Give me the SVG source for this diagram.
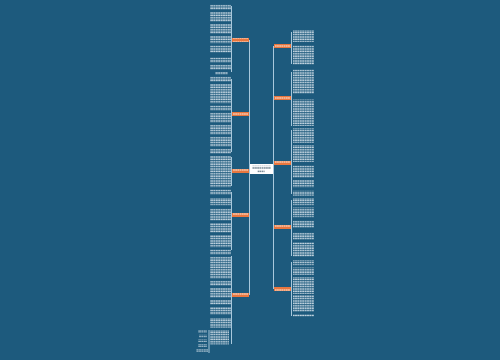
<svg xmlns="http://www.w3.org/2000/svg" width="500" height="360" viewBox="0 0 500 360">
<style>
.bg{fill:#1d5a7d}
.con{fill:none;stroke:#a8c8dc;stroke-width:1}
.node{fill:#e8773f}
.nt{fill:url(#ntx)}
.tx{fill:url(#txt)}
.ctr{fill:#ffffff}
</style>
<defs>
<pattern id="txt" width="2.4" height="2.4" patternUnits="userSpaceOnUse">
<rect x="0" y="0.3" width="2" height="1.4" fill="#e4edf3" opacity="0.85"/>
</pattern>
<pattern id="ntx" width="2.2" height="4" patternUnits="userSpaceOnUse">
<rect x="0" y="1.3" width="1.8" height="1.4" fill="#fbe2d2" opacity="0.8"/>
</pattern>
<pattern id="ctx" width="2.2" height="3.4" patternUnits="userSpaceOnUse">
<rect x="0" y="0.6" width="1.8" height="1.6" fill="#6a7d8a"/>
</pattern>
</defs>
<rect class="bg" x="0" y="0" width="500" height="360"/>
<g id="connectors">
<path class="con" d="M250,169 H249.5 V40 M249.5,169 V295"/>
<path class="con" d="M272,169 H273.5 V46 M273.5,169 V289"/>
<path class="con" d="M231.5,6 V72 M231.5,79 V152 M231.5,157 V186 M231.5,192 V250 M231.5,256 V344"/>
<path class="con" d="M291.5,32 V64 M291.5,72 V126 M291.5,130 V194 M291.5,200 V256 M291.5,262 V316"/>
<path class="con" d="M209,330 V353"/>
</g>
<g id="center">
<rect class="ctr" x="250" y="164" width="23" height="10"/>
<rect x="252" y="165.5" width="19" height="3.4" fill="url(#ctx)"/>
<rect x="257.6" y="169" width="7" height="3.4" fill="url(#ctx)"/>
</g>
<g id="left-nodes">
<g id="nL1"><rect class="node" x="232" y="38" width="17" height="4"/><rect class="nt" x="233" y="38" width="15" height="4"/></g>
<g id="nL2"><rect class="node" x="232" y="112" width="17" height="4"/><rect class="nt" x="233" y="112" width="15" height="4"/></g>
<g id="nL3"><rect class="node" x="232" y="169" width="17" height="4"/><rect class="nt" x="233" y="169" width="15" height="4"/></g>
<g id="nL4"><rect class="node" x="232" y="213" width="17" height="4"/><rect class="nt" x="233" y="213" width="15" height="4"/></g>
<g id="nL5"><rect class="node" x="232" y="293" width="17" height="4"/><rect class="nt" x="233" y="293" width="15" height="4"/></g>
</g>
<g id="right-nodes">
<g id="nR1"><rect class="node" x="274" y="44" width="17" height="4"/><rect class="nt" x="275" y="44" width="15" height="4"/></g>
<g id="nR2"><rect class="node" x="274" y="96" width="17" height="4"/><rect class="nt" x="275" y="96" width="15" height="4"/></g>
<g id="nR3"><rect class="node" x="274" y="161" width="17" height="4"/><rect class="nt" x="275" y="161" width="15" height="4"/></g>
<g id="nR4"><rect class="node" x="274" y="225" width="17" height="4"/><rect class="nt" x="275" y="225" width="15" height="4"/></g>
<g id="nR5"><rect class="node" x="274" y="287" width="17" height="4"/><rect class="nt" x="275" y="287" width="15" height="4"/></g>
</g>
<g id="left-texts">
<rect class="tx" x="210" y="4.8" width="21" height="4.8"/>
<rect class="tx" x="210" y="12" width="21" height="9.6"/>
<rect class="tx" x="210" y="24" width="21" height="9.6"/>
<rect class="tx" x="210" y="36" width="21" height="7.2"/>
<rect class="tx" x="210" y="45.6" width="21" height="7.2"/>
<rect class="tx" x="210" y="57.6" width="21" height="4.8"/>
<rect class="tx" x="210" y="64.8" width="21" height="4.8"/>
<rect class="tx" x="215" y="72" width="13" height="2.4"/>
<rect class="tx" x="210" y="76.8" width="21" height="4.8"/>
<rect class="tx" x="210" y="84" width="21" height="19.2"/>
<rect class="tx" x="210" y="105.6" width="21" height="4.8"/>
<rect class="tx" x="210" y="112.8" width="21" height="9.6"/>
<rect class="tx" x="210" y="124.8" width="21" height="9.6"/>
<rect class="tx" x="210" y="136.8" width="21" height="9.6"/>
<rect class="tx" x="210" y="148.8" width="21" height="4.8"/>
<rect class="tx" x="210" y="156" width="21" height="31.2"/>
<rect class="tx" x="210" y="189.6" width="21" height="4.8"/>
<rect class="tx" x="210" y="198" width="21" height="7.2"/>
<rect class="tx" x="210" y="208.8" width="21" height="12"/>
<rect class="tx" x="210" y="223.2" width="21" height="9.6"/>
<rect class="tx" x="210" y="235.2" width="21" height="12"/>
<rect class="tx" x="210" y="249.6" width="21" height="4.8"/>
<rect class="tx" x="210" y="256.8" width="21" height="21.6"/>
<rect class="tx" x="210" y="280.8" width="21" height="4.8"/>
<rect class="tx" x="210" y="288" width="21" height="9.6"/>
<rect class="tx" x="210" y="300" width="21" height="4.8"/>
<rect class="tx" x="210" y="307.2" width="21" height="7.2"/>
<rect class="tx" x="210" y="318" width="21" height="9.6"/>
<rect class="tx" x="210" y="330" width="19" height="14.4"/>
<rect class="tx" x="198" y="330" width="9" height="2.4"/>
<rect class="tx" x="199" y="334.8" width="8" height="2.4"/>
<rect class="tx" x="198" y="339.6" width="9" height="2.4"/>
<rect class="tx" x="198" y="344.4" width="9" height="2.4"/>
<rect class="tx" x="196" y="349.2" width="12" height="2.4"/>
</g>
<g id="right-texts">
<rect class="tx" x="293" y="30" width="21" height="12"/>
<rect class="tx" x="293" y="45.6" width="21" height="19.2"/>
<rect class="tx" x="293" y="69.6" width="21" height="24"/>
<rect class="tx" x="293" y="99.6" width="21" height="26.4"/>
<rect class="tx" x="293" y="128.4" width="21" height="14.4"/>
<rect class="tx" x="293" y="145.2" width="21" height="16.8"/>
<rect class="tx" x="293" y="165.6" width="21" height="12"/>
<rect class="tx" x="293" y="180" width="21" height="7.2"/>
<rect class="tx" x="293" y="190.8" width="21" height="4.8"/>
<rect class="tx" x="293" y="198" width="21" height="7.2"/>
<rect class="tx" x="293" y="207.6" width="21" height="9.6"/>
<rect class="tx" x="293" y="220.8" width="21" height="7.2"/>
<rect class="tx" x="293" y="232.8" width="21" height="7.2"/>
<rect class="tx" x="293" y="242.4" width="21" height="14.4"/>
<rect class="tx" x="293" y="260.4" width="21" height="4.8"/>
<rect class="tx" x="293" y="267.6" width="21" height="7.2"/>
<rect class="tx" x="293" y="277.2" width="21" height="16.8"/>
<rect class="tx" x="293" y="295.2" width="21" height="16.8"/>
<rect class="tx" x="293" y="314.4" width="21" height="2.4"/>
</g>
</svg>
